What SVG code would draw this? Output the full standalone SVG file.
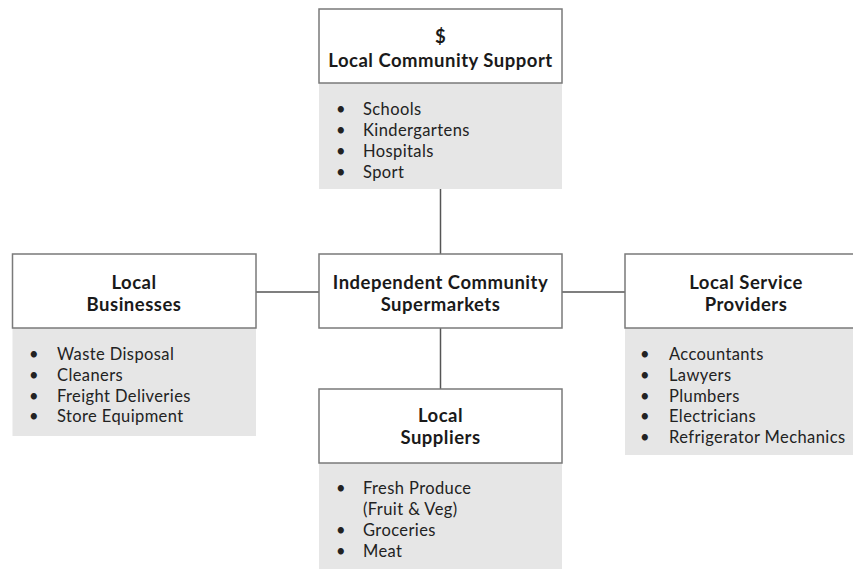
<svg xmlns="http://www.w3.org/2000/svg" width="853" height="569" viewBox="0 0 853 569">
  <style>
    .box { fill: #ffffff; stroke: #7a7a7a; stroke-width: 1.5; }
    .list { fill: #e6e6e6; }
    .title { font-family: Lato, "Liberation Sans", sans-serif; font-weight: bold; font-size: 18.5px; letter-spacing: 0.5px; fill: #1a1a1a; text-anchor: middle; }
    .item { font-family: Lato, "Liberation Sans", sans-serif; font-size: 16.5px; letter-spacing: 0.4px; fill: #222222; }
    .link { stroke: #555555; stroke-width: 1.5; fill: none; }
  </style>
  <rect width="853" height="569" fill="#ffffff"/>

  <!-- connectors -->
  <g id="connectors">
    <line class="link" x1="440.5" y1="189" x2="440.5" y2="254"/>
    <line class="link" x1="440.5" y1="328" x2="440.5" y2="389"/>
    <line class="link" x1="256" y1="292" x2="319" y2="292"/>
    <line class="link" x1="562" y1="292" x2="625" y2="292"/>
  </g>

  <!-- top: community support -->
  <g id="community-support">
    <rect class="list" x="319" y="83" width="243" height="106"/>
    <rect class="box" x="319" y="9" width="243" height="74"/>
    <text class="title" x="440.5" y="43">$</text>
    <text class="title" x="440.5" y="66.5">Local Community Support</text>
    <g class="item">
      <text x="336" y="114.5">•</text><text x="363" y="114.5">Schools</text>
      <text x="336" y="135.5">•</text><text x="363" y="135.5">Kindergartens</text>
      <text x="336" y="156.5">•</text><text x="363" y="156.5">Hospitals</text>
      <text x="336" y="177.5">•</text><text x="363" y="177.5">Sport</text>
    </g>
  </g>

  <!-- centre -->
  <g id="supermarkets">
    <rect class="box" x="319" y="254" width="243" height="74"/>
    <text class="title" x="440.5" y="289">Independent Community</text>
    <text class="title" x="440.5" y="311">Supermarkets</text>
  </g>

  <!-- left: businesses -->
  <g id="businesses">
    <rect class="list" x="12.5" y="328" width="243.5" height="108"/>
    <rect class="box" x="12.5" y="254" width="243.5" height="74"/>
    <text class="title" x="134" y="288.5">Local</text>
    <text class="title" x="134" y="310.5">Businesses</text>
    <g class="item">
      <text x="29" y="359.5">•</text><text x="57" y="359.5">Waste Disposal</text>
      <text x="29" y="380.5">•</text><text x="57" y="380.5">Cleaners</text>
      <text x="29" y="401.5">•</text><text x="57" y="401.5">Freight Deliveries</text>
      <text x="29" y="421.5">•</text><text x="57" y="421.5">Store Equipment</text>
    </g>
  </g>

  <!-- right: service providers -->
  <g id="service-providers">
    <rect class="list" x="625" y="328" width="230" height="127"/>
    <rect class="box" x="625" y="254" width="232" height="74"/>
    <text class="title" x="746" y="289">Local Service</text>
    <text class="title" x="746" y="311">Providers</text>
    <g class="item">
      <text x="640" y="359.5">•</text><text x="669" y="359.5">Accountants</text>
      <text x="640" y="380.5">•</text><text x="669" y="380.5">Lawyers</text>
      <text x="640" y="401.5">•</text><text x="669" y="401.5">Plumbers</text>
      <text x="640" y="421.5">•</text><text x="669" y="421.5">Electricians</text>
      <text x="640" y="442.5">•</text><text x="669" y="442.5">Refrigerator Mechanics</text>
    </g>
  </g>

  <!-- bottom: suppliers -->
  <g id="suppliers">
    <rect class="list" x="319" y="463" width="243" height="106"/>
    <rect class="box" x="319" y="389" width="243" height="74"/>
    <text class="title" x="440.5" y="422">Local</text>
    <text class="title" x="440.5" y="444">Suppliers</text>
    <g class="item">
      <text x="336" y="493.5">•</text><text x="363" y="493.5">Fresh Produce</text>
      <text x="363" y="514.5">(Fruit &amp; Veg)</text>
      <text x="336" y="535.5">•</text><text x="363" y="535.5">Groceries</text>
      <text x="336" y="556.5">•</text><text x="363" y="556.5">Meat</text>
    </g>
  </g>
</svg>
